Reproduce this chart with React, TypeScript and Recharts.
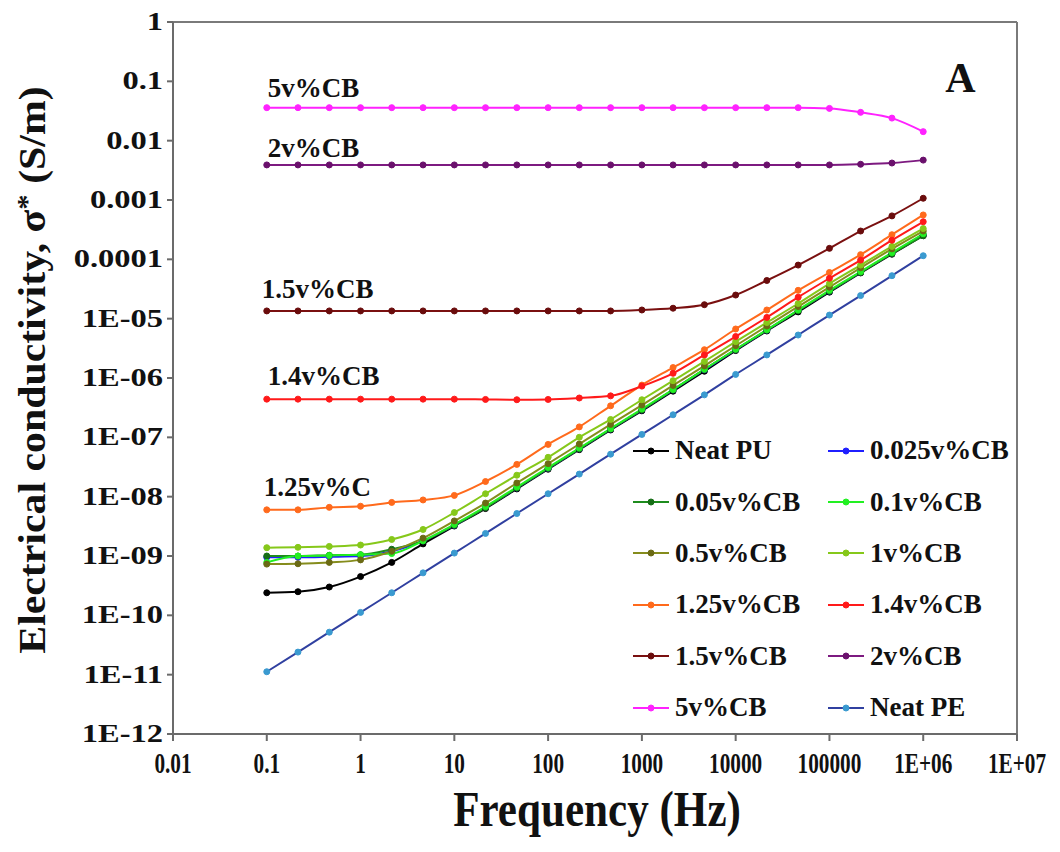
import { LineChart, Line, XAxis, YAxis, Legend, ReferenceLine, ReferenceDot } from "recharts";

const FONT = "'Times New Roman', 'Liberation Serif', serif";

// frequency points (Hz), three per decade
const freqs = [0.1, 0.215, 0.464, 1, 2.15, 4.64, 10, 21.5, 46.4, 100, 215, 464, 1000, 2150, 4640, 10000, 21500, 46400, 100000, 215000, 464000, 1000000];

const neatPU = [2.4e-10, 2.5e-10, 3.0e-10, 4.5e-10, 7.8e-10, 1.6e-9, 3.2e-9, 6.3e-9, 1.35e-8, 2.9e-8, 6.2e-8, 1.33e-7, 2.8e-7, 6.0e-7, 1.3e-6, 2.9e-6, 6.2e-6, 1.3e-5, 2.8e-5, 5.9e-5, 1.22e-4, 2.5e-4];
const cb0025 = [9.5e-10, 9.5e-10, 9.7e-10, 1.0e-9, 1.2e-9, 1.8e-9, 3.3e-9, 6.6e-9, 1.4e-8, 3.0e-8, 6.4e-8, 1.38e-7, 2.9e-7, 6.3e-7, 1.38e-6, 3.0e-6, 6.4e-6, 1.38e-5, 2.9e-5, 6.1e-5, 1.27e-4, 2.6e-4];
const cb005 = [1.0e-9, 1.0e-9, 1.03e-9, 1.05e-9, 1.3e-9, 1.8e-9, 3.3e-9, 6.5e-9, 1.4e-8, 3.0e-8, 6.4e-8, 1.38e-7, 2.9e-7, 6.3e-7, 1.4e-6, 3.0e-6, 6.4e-6, 1.36e-5, 2.9e-5, 6.0e-5, 1.25e-4, 2.5e-4];
const cb01 = [7.8e-10, 1.0e-9, 1.02e-9, 1.05e-9, 1.1e-9, 1.8e-9, 3.4e-9, 6.8e-9, 1.45e-8, 3.1e-8, 6.6e-8, 1.4e-7, 3.0e-7, 6.4e-7, 1.4e-6, 3.05e-6, 6.5e-6, 1.4e-5, 3.0e-5, 6.2e-5, 1.3e-4, 2.7e-4];
const cb05 = [7.3e-10, 7.4e-10, 7.8e-10, 8.6e-10, 1.2e-9, 2.0e-9, 3.9e-9, 7.8e-9, 1.7e-8, 3.6e-8, 7.7e-8, 1.65e-7, 3.5e-7, 7.5e-7, 1.6e-6, 3.5e-6, 7.5e-6, 1.6e-5, 3.4e-5, 7.2e-5, 1.5e-4, 3.0e-4];
const cb1 = [1.38e-9, 1.4e-9, 1.45e-9, 1.53e-9, 1.9e-9, 2.8e-9, 5.4e-9, 1.12e-8, 2.3e-8, 4.6e-8, 1.0e-7, 2.0e-7, 4.3e-7, 9.0e-7, 1.9e-6, 4.1e-6, 8.6e-6, 1.8e-5, 3.9e-5, 8.0e-5, 1.65e-4, 3.3e-4];
const cb125 = [6.0e-9, 6.0e-9, 6.6e-9, 6.9e-9, 8.0e-9, 8.8e-9, 1.05e-8, 1.8e-8, 3.5e-8, 7.6e-8, 1.5e-7, 3.4e-7, 7.6e-7, 1.5e-6, 3.0e-6, 6.7e-6, 1.4e-5, 3.0e-5, 6.0e-5, 1.2e-4, 2.6e-4, 5.6e-4];
const cb14 = [4.4e-7, 4.4e-7, 4.4e-7, 4.4e-7, 4.4e-7, 4.4e-7, 4.4e-7, 4.35e-7, 4.3e-7, 4.35e-7, 4.6e-7, 5.0e-7, 7.3e-7, 1.2e-6, 2.45e-6, 5.0e-6, 1.05e-5, 2.3e-5, 4.8e-5, 9.7e-5, 2.1e-4, 4.3e-4];
const cb15 = [1.35e-5, 1.35e-5, 1.35e-5, 1.35e-5, 1.35e-5, 1.35e-5, 1.35e-5, 1.35e-5, 1.35e-5, 1.35e-5, 1.35e-5, 1.35e-5, 1.4e-5, 1.5e-5, 1.72e-5, 2.5e-5, 4.4e-5, 8.0e-5, 1.53e-4, 3.0e-4, 5.4e-4, 1.07e-3];
const cb2 = [0.0039, 0.0039, 0.0039, 0.0039, 0.0039, 0.0039, 0.0039, 0.0039, 0.0039, 0.0039, 0.0039, 0.0039, 0.0039, 0.0039, 0.0039, 0.0039, 0.0039, 0.0039, 0.0039, 0.004, 0.0042, 0.0047];
const cb5 = [0.036, 0.036, 0.036, 0.036, 0.036, 0.036, 0.036, 0.036, 0.036, 0.036, 0.036, 0.036, 0.036, 0.036, 0.036, 0.036, 0.036, 0.036, 0.035, 0.03, 0.024, 0.0142];
const neatPE = [1.12e-11, 2.4e-11, 5.2e-11, 1.12e-10, 2.4e-10, 5.2e-10, 1.12e-9, 2.4e-9, 5.2e-9, 1.12e-8, 2.4e-8, 5.2e-8, 1.12e-7, 2.4e-7, 5.2e-7, 1.15e-6, 2.45e-6, 5.3e-6, 1.15e-5, 2.45e-5, 5.3e-5, 1.15e-4];

const xTicks = [0.01, 0.1, 1, 10, 100, 1000, 10000, 100000, 1e6, 1e7];
const xTickLabels = ["0.01", "0.1", "1", "10", "100", "1000", "10000", "100000", "1E+06", "1E+07"];
const yTicks = [1, 0.1, 0.01, 0.001, 0.0001, 1e-5, 1e-6, 1e-7, 1e-8, 1e-9, 1e-10, 1e-11, 1e-12];
const yTickLabels = ["1", "0.1", "0.01", "0.001", "0.0001", "1E-05", "1E-06", "1E-07", "1E-08", "1E-09", "1E-10", "1E-11", "1E-12"];

const series = [
  { key: "pu", name: "Neat PU", values: neatPU, color: "#000000", dot: "#000000" },
  { key: "c0025", name: "0.025v%CB", values: cb0025, color: "#1f1fff", dot: "#1f1fff" },
  { key: "c005", name: "0.05v%CB", values: cb005, color: "#1e8c1e", dot: "#166e16" },
  { key: "c01", name: "0.1v%CB", values: cb01, color: "#22f022", dot: "#22f022" },
  { key: "c05", name: "0.5v%CB", values: cb05, color: "#858c1c", dot: "#6b6a14" },
  { key: "c1", name: "1v%CB", values: cb1, color: "#86c81a", dot: "#86c81a" },
  { key: "c125", name: "1.25v%CB", values: cb125, color: "#ff6a1c", dot: "#ff6a1c" },
  { key: "c14", name: "1.4v%CB", values: cb14, color: "#ff1a1a", dot: "#ff1a1a" },
  { key: "c15", name: "1.5v%CB", values: cb15, color: "#7a1010", dot: "#6a0c0c" },
  { key: "c2", name: "2v%CB", values: cb2, color: "#7d1a80", dot: "#6a106c" },
  { key: "c5", name: "5v%CB", values: cb5, color: "#ff22ff", dot: "#ff22ff" },
  { key: "pe", name: "Neat PE", values: neatPE, color: "#3040a0", dot: "#3a9ad0" },
];

// in-plot series annotations, anchored at the first data point
const notes = [
  { text: "5v%CB", values: cb5, dx: 1, dy: 11 },
  { text: "2v%CB", values: cb2, dx: 1, dy: 8 },
  { text: "1.5v%CB", values: cb15, dx: -5, dy: 13 },
  { text: "1.4v%CB", values: cb14, dx: 1, dy: 14 },
  { text: "1.25v%C", values: cb125, dx: -3, dy: 14 },
];

const rows = freqs.map((f, i) => {
  const r: Record<string, number> = { f };
  series.forEach((s) => (r[s.key] = s.values[i]));
  return r;
});

function nearestIdx(list: number[], v: number) {
  let best = 0;
  list.forEach((t, i) => {
    if (Math.abs(Math.log10(t) - Math.log10(v)) < Math.abs(Math.log10(list[best]) - Math.log10(v))) best = i;
  });
  return best;
}

function XTick({ x, y, payload }: any) {
  const label = xTickLabels[nearestIdx(xTicks, payload.value)];
  return (
    <text transform={`translate(${x},${y + 30}) scale(0.85,1.2)`} textAnchor="middle"
      fontFamily={FONT} fontWeight="bold" fontSize={25} fill="#111">
      {label}
    </text>
  );
}

function YTick({ x, y, payload }: any) {
  const label = yTickLabels[nearestIdx(yTicks, payload.value)];
  return (
    <text transform={`translate(${x - 2},${y + 8}) scale(1.25,1)`} textAnchor="end"
      fontFamily={FONT} fontWeight="bold" fontSize={26} fill="#111">
      {label}
    </text>
  );
}

function LegendGrid() {
  return (
    <div style={{ display: "grid", gridTemplateColumns: "195px 200px", gridAutoRows: "51.4px", fontFamily: FONT, fontWeight: "bold", fontSize: 27, color: "#111" }}>
      {series.map((s) => (
        <div key={s.key} style={{ display: "flex", alignItems: "center", whiteSpace: "nowrap" }}>
          <svg width={36} height={10} style={{ marginRight: 6 }}>
            <line x1={0} y1={5} x2={36} y2={5} stroke={s.color} strokeWidth={2} />
            <circle cx={18} cy={5} r={3} fill={s.dot} stroke={s.dot} />
          </svg>
          <span>{s.name}</span>
        </div>
      ))}
    </div>
  );
}

export default function App() {
  return (
    <LineChart width={1044} height={836} data={rows} margin={{ top: 14, right: 35, left: 0, bottom: 0 }}>
      <XAxis dataKey="f" type="number" scale="log" domain={[0.01, 1e7]} ticks={xTicks} allowDataOverflow
        height={110} tickSize={7} stroke="#6b6b6b" strokeWidth={2} tick={<XTick />} interval={0}
        label={{
          content: () => (
            <text transform="translate(589,818) scale(0.98,1.15)" textAnchor="middle"
              fontFamily={FONT} fontWeight="bold" fontSize={44} fill="#111">
              Frequency (Hz)
            </text>
          ),
        }}
      />
      <YAxis type="number" scale="log" domain={[1e-12, 1]} ticks={yTicks} allowDataOverflow
        width={165} tickSize={6} stroke="#6b6b6b" strokeWidth={2} tick={<YTick />} interval={0}
        label={{
          content: () => (
            <text transform="translate(24,362) rotate(-90) scale(1.1,1)" textAnchor="middle" dominantBaseline="central"
              fontFamily={FONT} fontWeight="bold" fontSize={38} fill="#111">
              <tspan>Electrical conductivity, σ</tspan>
              <tspan dy={-6} fontSize={28}>*</tspan>
              <tspan dy={6}> (S/m)</tspan>
            </text>
          ),
        }}
      />
      <ReferenceLine y={1} stroke="#7a7a7a" strokeWidth={2} />
      <ReferenceLine x={1e7} stroke="#7a7a7a" strokeWidth={2} />
      {series.map((s) => (
        <Line key={s.key} dataKey={s.key} name={s.name} type="monotone" stroke={s.color} strokeWidth={2}
          dot={{ r: 3, fill: s.dot, stroke: s.dot, strokeWidth: 1 }} isAnimationActive={false} />
      ))}
      {notes.map((n) => (
        <ReferenceDot key={n.text} x={freqs[0]} y={n.values[0]} r={0}
          shape={(p: any) => (
            <text x={p.cx + n.dx} y={p.cy - n.dy} fontFamily={FONT} fontWeight="bold" fontSize={27} fill="#111">
              {n.text}
            </text>
          )}
        />
      ))}
      <ReferenceDot x={2.5e6} y={0.065} r={0}
        shape={(p: any) => (
          <text x={p.cx} y={p.cy} textAnchor="middle" fontFamily={FONT} fontWeight="bold" fontSize={42} fill="#111">A</text>
        )}
      />
      <Legend layout="vertical" align="center" verticalAlign="middle" content={() => <LegendGrid />}
        wrapperStyle={{ position: "absolute", left: 625, top: 417, width: 400, height: 310 }} />
    </LineChart>
  );
}
